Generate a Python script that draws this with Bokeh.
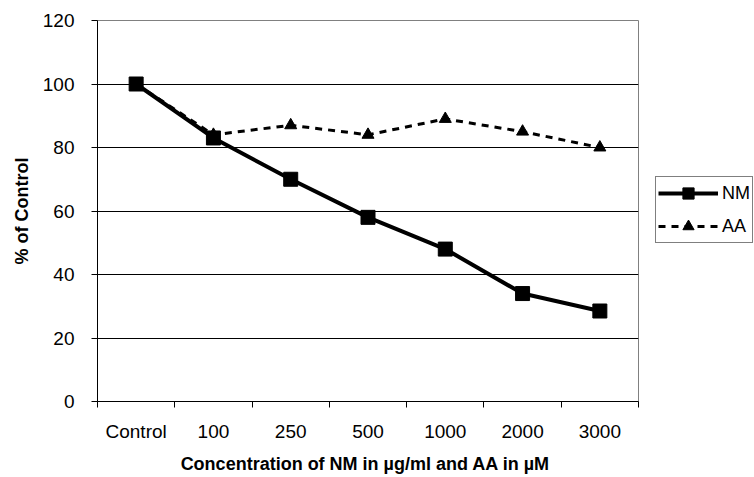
from bokeh.plotting import figure
from bokeh.models import FixedTicker, Range1d, Legend, LegendItem, ColumnDataSource
from bokeh.embed import file_html
from bokeh.resources import INLINE

categories = ["Control", "100", "250", "500", "1000", "2000", "3000"]
nm_values = [100, 83, 70, 58, 48, 34, 28.5]
aa_values = [100, 84, 87, 84, 89, 85, 80]
y_ticks = [0, 20, 40, 60, 80, 100, 120]

xpos = [i + 0.5 for i in range(len(categories))]
src = ColumnDataSource(dict(x=xpos, nm=nm_values, aa=aa_values))

FONT = "Liberation Sans"

p = figure(frame_width=541, frame_height=381, output_backend="svg", toolbar_location=None,
           x_range=Range1d(0, len(categories)), y_range=Range1d(0, 120),
           min_border_left=97, min_border_right=116, min_border_top=20, min_border_bottom=76,
           background_fill_color="white", border_fill_color="white")
p.outline_line_color = "#808080"
p.outline_line_width = 1

# AA dashed line with triangles (drawn first, below NM)
aa_line = p.line("x", "aa", source=src, line_color="black", line_width=3, line_dash="7 6")
aa_pts = p.scatter("x", "aa", source=src, marker="triangle", size=12, fill_color="black", line_color="black")
# NM solid line with squares
nm_line = p.line("x", "nm", source=src, line_color="black", line_width=4)
nm_pts = p.scatter("x", "nm", source=src, marker="square", size=14, fill_color="black", line_color="black")

# X axis: labels at category centres, ticks at boundaries (minor ticks)
p.xaxis.ticker = FixedTicker(ticks=xpos, minor_ticks=list(range(len(categories) + 1)))
p.xaxis.major_label_overrides = {x: c for x, c in zip(xpos, categories)}
p.xaxis.major_tick_out = 0
p.xaxis.major_tick_in = 0
p.xaxis.minor_tick_out = 6
p.xaxis.minor_tick_in = 0
p.xaxis.minor_tick_line_color = "black"
p.xaxis.axis_line_color = "black"
p.xaxis.major_label_standoff = 13
p.xaxis.major_label_text_font = FONT
p.xaxis.major_label_text_font_size = "19px"
p.xaxis.major_label_text_color = "black"
p.xaxis.axis_label = "Concentration of NM in µg/ml  and AA in µM"
p.xaxis.axis_label_text_font = FONT
p.xaxis.axis_label_text_font_size = "18px"
p.xaxis.axis_label_text_font_style = "bold"
p.xaxis.axis_label_text_color = "black"
p.xaxis.axis_label_standoff = 9

# Y axis
p.yaxis.ticker = FixedTicker(ticks=y_ticks, minor_ticks=[])
p.yaxis.major_tick_out = 6
p.yaxis.major_tick_in = 0
p.yaxis.major_tick_line_color = "black"
p.yaxis.axis_line_color = "black"
p.yaxis.major_label_standoff = 17
p.yaxis.major_label_text_font = FONT
p.yaxis.major_label_text_font_size = "19px"
p.yaxis.major_label_text_color = "black"
p.yaxis.axis_label = "% of Control"
p.yaxis.axis_label_text_font = FONT
p.yaxis.axis_label_text_font_size = "18px"
p.yaxis.axis_label_text_font_style = "bold"
p.yaxis.axis_label_text_color = "black"
p.yaxis.axis_label_standoff = 8

p.xgrid.visible = False
p.ygrid.ticker = FixedTicker(ticks=y_ticks)
p.ygrid.grid_line_color = "black"
p.ygrid.grid_line_width = 1

legend = Legend(items=[LegendItem(label="NM", renderers=[nm_line, nm_pts]),
                       LegendItem(label="AA", renderers=[aa_line, aa_pts])],
                location=(17, 158))
legend.border_line_color = "black"
legend.border_line_width = 1
legend.background_fill_color = "white"
legend.background_fill_alpha = 1
legend.label_text_font = FONT
legend.label_text_font_size = "18px"
legend.label_text_color = "black"
legend.glyph_width = 60
legend.glyph_height = 28
legend.label_height = 28
legend.label_standoff = 4
legend.padding = 2
legend.spacing = 5
legend.margin = 0
p.add_layout(legend, "right")

open("out.html", "w").write(file_html(p, INLINE))
